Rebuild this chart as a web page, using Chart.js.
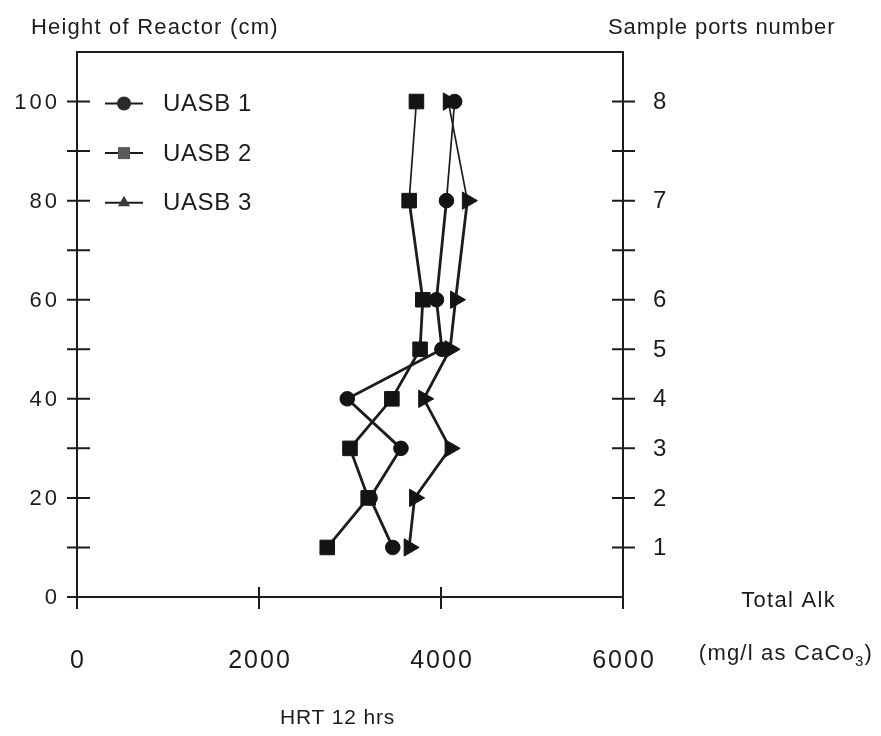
<!DOCTYPE html>
<html>
<head>
<meta charset="utf-8">
<script src="https://cdn.jsdelivr.net/npm/chart.js@4.4.1/dist/chart.umd.min.js"></script>
<style>
  html, body { margin: 0; background: #fff; }
</style>
</head>
<body>
<canvas id="alkChart" width="881" height="736"></canvas>
<script>
// Heights of the sample ports (cm) and total alkalinity at each one (mg/l as CaCO3)
const heights = [100, 80, 60, 50, 40, 30, 20, 10];
const uasb1 = [4150, 4060, 3950, 4010, 2970, 3560, 3220, 3470];
const uasb2 = [3730, 3650, 3800, 3770, 3460, 3000, 3200, 2750];
const uasb3 = [4080, 4290, 4160, 4100, 3810, 4100, 3710, 3650];

const heightTicks = [0, 10, 20, 30, 40, 50, 60, 70, 80, 90, 100];
const heightLabels = ['0', '', '20', '', '40', '', '60', '', '80', '', '100'];
const portTicks = [10, 20, 30, 40, 50, 60, 70, 80, 90, 100];
const portLabels = ['1', '2', '3', '4', '5', '6', '', '7', '', '8'];
const alkTicks = [0, 2000, 4000, 6000];
const seriesNames = ['UASB 1', 'UASB 2', 'UASB 3'];

const INK = '#1c1c1c';
const FONT = '"Liberation Sans", Arial, Helvetica, sans-serif';

function putText(ctx, str, x, y, size, spacing, align, baseline) {
    ctx.font = size + 'px ' + FONT;
    ctx.letterSpacing = spacing + 'px';
    ctx.textAlign = align;
    ctx.textBaseline = baseline || 'alphabetic';
    // canvas letterSpacing leaves a gap after the last glyph too
    const dx = align === 'right' ? spacing : (align === 'center' ? spacing / 2 : 0);
    ctx.fillText(str, x + dx, y);
}

function toPoints(values) {
    return heights.map((h, i) => ({ x: values[i], y: h }));
}

// axes are drawn as a closed box with ticks crossing the lines, plus all the labels
const frameAndLabels = {
    id: 'frameAndLabels',
    beforeDraw(chart) {
        const ctx = chart.ctx;
        ctx.save();
        ctx.fillStyle = '#fff';
        ctx.fillRect(0, 0, chart.width, chart.height);
        ctx.restore();
    },
    afterDraw(chart) {
        const ctx = chart.ctx;
        const area = chart.chartArea;
        const xs = chart.scales.x, yl = chart.scales.y, yr = chart.scales.yPorts;
        ctx.save();
        ctx.strokeStyle = INK;
        ctx.fillStyle = INK;
        ctx.lineWidth = 2;

        ctx.beginPath();
        heightTicks.forEach(v => {
            const py = yl.getPixelForValue(v);
            ctx.moveTo(area.left - 10, py);
            ctx.lineTo(area.left + (v === 0 ? 0 : 13), py);
        });
        portTicks.forEach(v => {
            const py = yr.getPixelForValue(v);
            ctx.moveTo(area.right - 11, py);
            ctx.lineTo(area.right + 12, py);
        });
        alkTicks.forEach(v => {
            const px = xs.getPixelForValue(v);
            ctx.moveTo(px, area.bottom - 10);
            ctx.lineTo(px, area.bottom + 12);
        });
        ctx.stroke();

        heightTicks.forEach((v, i) => {
            putText(ctx, heightLabels[i], 57, yl.getPixelForValue(v) + 1, 22, 3, 'right', 'middle');
        });
        portTicks.forEach((v, i) => {
            putText(ctx, portLabels[i], 653, yr.getPixelForValue(v) + 1, 24, 1, 'left', 'middle');
        });
        alkTicks.forEach(v => {
            putText(ctx, String(v), xs.getPixelForValue(v), 668, 25, 2, 'center');
        });

        putText(ctx, 'Height of Reactor (cm)', 31, 34, 22, 1.2, 'left');
        putText(ctx, 'Sample ports number', 608, 34, 22, 0.9, 'left');
        putText(ctx, 'Total Alk', 788, 607, 22, 1.3, 'center');
        putText(ctx, 'HRT 12 hrs', 280, 724, 21, 0.8, 'left');

        // "(mg/l as CaCo3)" with a subscript 3
        ctx.textAlign = 'left';
        ctx.font = '22px ' + FONT;
        ctx.letterSpacing = '1.2px';
        const a = '(mg/l as CaCo', c = ')';
        const wa = ctx.measureText(a).width, wc = ctx.measureText(c).width;
        ctx.font = '15px ' + FONT;
        const wb = ctx.measureText('3').width;
        let x0 = 786 - (wa + wb + wc) / 2;
        ctx.font = '22px ' + FONT;
        ctx.fillText(a, x0, 660);
        ctx.font = '15px ' + FONT;
        ctx.fillText('3', x0 + wa, 666);
        ctx.font = '22px ' + FONT;
        ctx.fillText(c, x0 + wa + wb, 660);

        // legend inside the plot, one row per series
        const styles = [
            { pointStyle: 'circle', radius: 7, fill: '#2a2a2a' },
            { pointStyle: 'rect', radius: 8.5, fill: '#5a5a5a' },
            { pointStyle: 'triangle', radius: 7, fill: '#3a3a3a' }
        ];
        ctx.letterSpacing = '0px';
        ctx.lineWidth = 2;
        [100, 90, 80].forEach((v, i) => {
            const py = yl.getPixelForValue(v) + 2;
            ctx.strokeStyle = INK;
            ctx.beginPath();
            ctx.moveTo(105, py);
            ctx.lineTo(143, py);
            ctx.stroke();
            ctx.fillStyle = styles[i].fill;
            Chart.helpers.drawPoint(ctx, {
                pointStyle: styles[i].pointStyle,
                radius: styles[i].radius,
                rotation: 0,
                borderWidth: 0
            }, 124, py);
            ctx.fillStyle = INK;
            putText(ctx, seriesNames[i], 163, py + 1, 24, 0.6, 'left', 'middle');
        });
        ctx.restore();
    }
};

function series(label, values, style, radius, rotation) {
    return {
        label: label,
        data: toPoints(values),
        showLine: true,
        borderColor: INK,
        borderWidth: 2.8,
        segment: {
            borderWidth: c => (c.p0.parsed.y === 100 ? 1.7 : 2.8)
        },
        pointStyle: style,
        pointRadius: radius,
        pointRotation: rotation,
        pointBackgroundColor: '#141414',
        pointBorderColor: '#141414',
        pointBorderWidth: 1
    };
}

const hiddenTicks = { display: false };
const noGrid = { display: false };

new Chart(document.getElementById('alkChart'), {
    type: 'scatter',
    data: {
        datasets: [
            series('UASB 1', uasb1, 'circle', 7.3, 0),
            series('UASB 2', uasb2, 'rect', 10.3, 0),
            series('UASB 3', uasb3, 'triangle', 10, 90)
        ]
    },
    options: {
        responsive: false,
        devicePixelRatio: 1,
        animation: false,
        layout: { padding: 0 },
        plugins: {
            legend: { display: false },
            tooltip: { enabled: false }
        },
        scales: {
            x: {
                type: 'linear', position: 'bottom', min: 0, max: 6000,
                ticks: hiddenTicks, grid: noGrid,
                border: { display: true, color: INK, width: 2 },
                afterFit: s => { s.height = 139; }
            },
            xTop: {
                axis: 'x', type: 'linear', position: 'top', min: 0, max: 6000,
                ticks: hiddenTicks, grid: noGrid,
                border: { display: true, color: INK, width: 2 },
                afterFit: s => { s.height = 52; }
            },
            y: {
                type: 'linear', position: 'left', min: 0, max: 110,
                ticks: hiddenTicks, grid: noGrid,
                border: { display: true, color: INK, width: 2 },
                afterFit: s => { s.width = 77; }
            },
            yPorts: {
                axis: 'y', type: 'linear', position: 'right', min: 0, max: 110,
                ticks: hiddenTicks, grid: noGrid,
                border: { display: true, color: INK, width: 2 },
                afterFit: s => { s.width = 258; }
            }
        }
    },
    plugins: [frameAndLabels]
});
</script>
</body>
</html>
